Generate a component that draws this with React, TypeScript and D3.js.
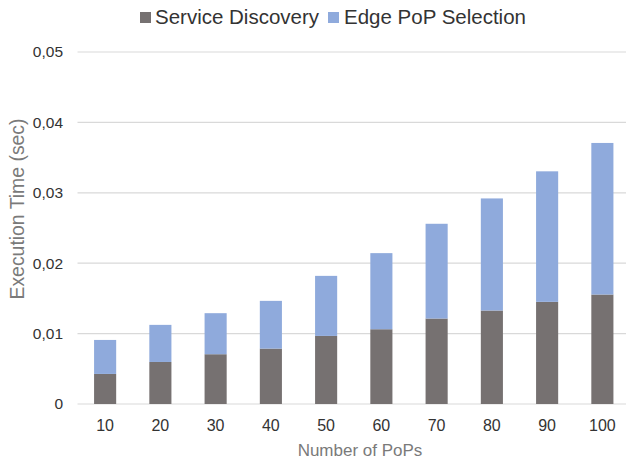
import React from "react";
import * as d3 from "d3";

const categories = ["10", "20", "30", "40", "50", "60", "70", "80", "90", "100"];
const serviceDiscovery = [0.00427, 0.00597, 0.00707, 0.00787, 0.00967, 0.01062, 0.01214, 0.01328, 0.01451, 0.01555];
const totals = [0.0091, 0.01124, 0.0129, 0.01465, 0.0182, 0.02143, 0.0256, 0.0292, 0.03305, 0.03708];
const edgePopSelection = totals.map((t, i) => t - serviceDiscovery[i]);
const yTicks = [0, 0.01, 0.02, 0.03, 0.04, 0.05];
const seriesNames = ["Service Discovery", "Edge PoP Selection"];
const colors = ["#767171", "#8FAADC"];

const W = 626;
const H = 461;
const font = "'Liberation Sans', Arial, Helvetica, sans-serif";

export default function App() {
  const x = d3.scaleBand<string>().domain(categories).range([77.5, 630]).paddingInner(0.6).paddingOuter(0.3);
  const y = d3.scaleLinear().domain([0, 0.05]).range([404, 52]);
  const fmt = (v: number) => (v === 0 ? "0" : d3.format(".2f")(v).replace(".", ","));

  const data = categories.map((c, i) => ({ c, sd: serviceDiscovery[i], ep: edgePopSelection[i] }));
  const stack = d3.stack<any>().keys(["sd", "ep"])(data);

  return (
    <svg width={W} height={H} style={{ position: "absolute", left: 0, top: 0, background: "#fff" }} fontFamily={font}>
      {yTicks.map((t) => (
        <g key={t}>
          <line x1={77.5} x2={W} y1={y(t)} y2={y(t)} stroke="#d9d9d9" strokeWidth={1.2} />
          <text x={63} y={y(t)} dy="0.35em" textAnchor="end" fontSize={15.5} fill="#333">
            {fmt(t)}
          </text>
        </g>
      ))}
      {stack.map((s, si) => (
        <g key={si} fill={colors[si]}>
          {s.map((d, i) => (
            <rect
              key={i}
              x={x(categories[i])}
              width={x.bandwidth()}
              y={y(d[1])}
              height={y(d[0]) - y(d[1])}
            />
          ))}
        </g>
      ))}
      {categories.map((c) => (
        <text key={c} x={(x(c) as number) + x.bandwidth() / 2} y={431} textAnchor="middle" fontSize={16} fill="#333">
          {c}
        </text>
      ))}
      <text x={360} y={456} textAnchor="middle" fontSize={17} fill="#7a7a7a">
        Number of PoPs
      </text>
      <text transform="translate(24,209) rotate(-90)" textAnchor="middle" fontSize={19.4} fill="#7a7a7a">
        Execution Time (sec)
      </text>
      <g>
        <rect x={140} y={12} width={11} height={11} fill={colors[0]} />
        <text x={155} y={24} fontSize={20.5} fill="#333">{seriesNames[0]}</text>
        <rect x={328} y={12} width={11} height={11} fill={colors[1]} />
        <text x={344} y={24} fontSize={20.5} fill="#333">{seriesNames[1]}</text>
      </g>
    </svg>
  );
}
